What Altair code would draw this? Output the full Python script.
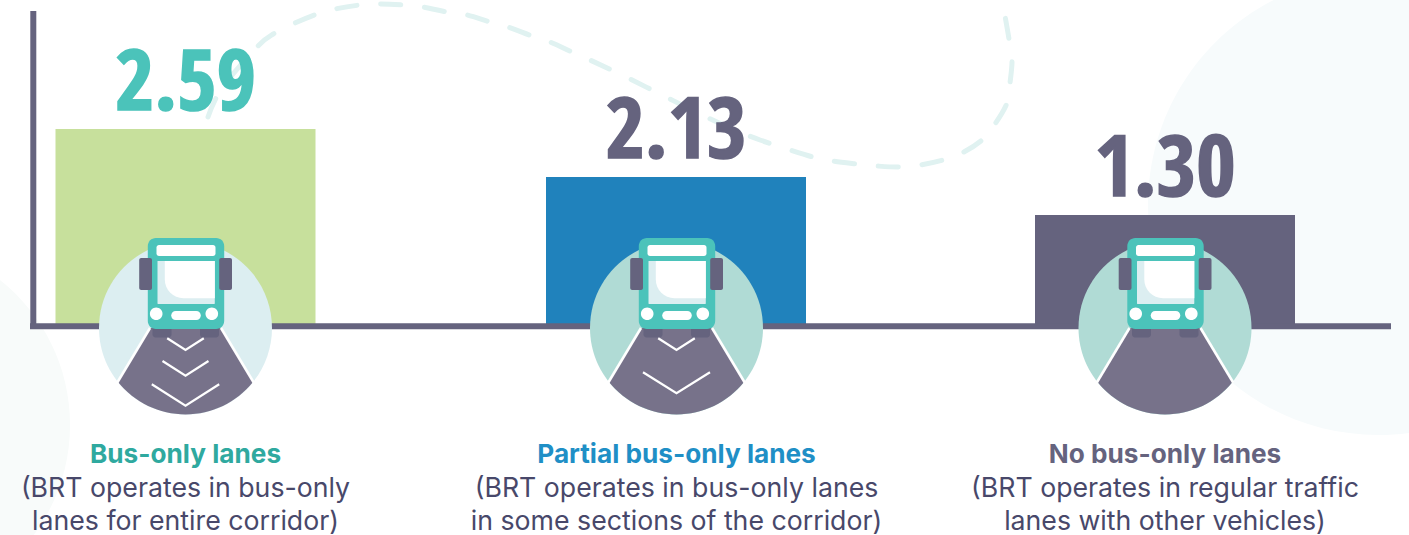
import altair as alt
import pandas as pd

W, H = 1409, 535

# Values and labels
categories = ["Bus-only lanes", "Partial bus-only lanes", "No bus-only lanes"]
values = [2.59, 2.13, 1.30]
descriptions = [
    ["(BRT operates in bus-only", "lanes for entire corridor)"],
    ["(BRT operates in bus-only lanes", "in some sections of the corridor)"],
    ["(BRT operates in regular traffic", "lanes with other vehicles)"],
]

# Per-category styling and layout
centers = [185.5, 676.5, 1165]
bar_colors = ["#C7E09C", "#2082BC", "#65637E"]
number_colors = ["#4BC3BA", "#65637E", "#65637E"]
heading_colors = ["#2FA99F", "#1F8FC6", "#65637E"]
disc_colors = ["#DCEEF1", "#B0DBD5", "#B0DBD5"]

# The printed bar heights step unevenly between values, so the value axis is piecewise
value_domain = [0, 1.30, 2.13, 2.59]
value_range = [326, 215, 177, 129]

# Dashed route running behind the figures
route_x = [208, 222, 258, 275, 295, 317, 335, 360, 380, 403, 423, 447, 467, 490, 508, 532, 550,
           572, 590, 620, 660, 700, 730, 760, 790, 813, 832, 857, 877, 900, 920, 943, 962, 982,
           995, 1007, 1010, 1012, 1009, 1005]
route_y = [117, 88, 46, 33, 23, 14, 9, 5, 4, 5, 7, 12, 15, 22, 27, 36, 42,
           52, 60, 74, 94, 114, 128, 140, 150, 157, 161, 164, 166, 167, 165, 160, 153, 140,
           124, 103, 83, 60, 39, 16]


def disc(r):
    return f"M{-r},0 A{r},{r} 0 1 1 {r},0 A{r},{r} 0 1 1 {-r},0 Z"


def rounded(x0, y0, x1, y1, r):
    return (f"M{x0 + r},{y0} L{x1 - r},{y0} A{r},{r} 0 0 1 {x1},{y0 + r} L{x1},{y1 - r} "
            f"A{r},{r} 0 0 1 {x1 - r},{y1} L{x0 + r},{y1} A{r},{r} 0 0 1 {x0},{y1 - r} "
            f"L{x0},{y0 + r} A{r},{r} 0 0 1 {x0 + r},{y0} Z")


def chevron(half, top, tip):
    return f"M{-half},{top} L0,{tip} L{half},{top}"


DARK, ROAD, TEAL, PALE = "#65637E", "#77728A", "#4BC3BA", "#DCEEF1"
NONE = "transparent"

road = "M-35,0 L-67.5,54 A86.5,86.5 0 0 0 67.5,54 L35,0 Z"
wheel_l = rounded(-33, -3, -14, 9.5, 3)
wheel_r = rounded(14.5, -3, 33.5, 9.5, 3)
mirror_l = rounded(-46.3, -70, -33.5, -38, 2)
mirror_r = rounded(33.7, -70, 46.5, -38, 2)
body = rounded(-37.7, -90, 38.7, 1, 8)
sign = rounded(-29, -83, 30, -72, 2.5)
windshield = rounded(-28, -67, 29.3, -24, 0.5)
glare = "M-20.7,-67 L29.3,-67 L29.3,-29.7 L-2,-29.7 A18.7,18.7 0 0 1 -20.7,-48.4 Z"
grille = rounded(-14.3, -17, 15.3, -8, 4.5)
lamp = "M{0},-14.3 A6.3,6.3 0 1 1 {1},-14.3 A6.3,6.3 0 1 1 {0},-14.3 Z"
lamp_l = lamp.format(-35.6, -23)
lamp_r = lamp.format(20, 32.6)

chevrons = [
    [chevron(18.3, 10.3, 22), chevron(23, 33, 47.7), chevron(33.7, 56.3, 77.7)],
    [chevron(18.3, 10.3, 22), chevron(33.5, 44.3, 65.3)],
    [],
]

# One row per drawn shape of each bus badge, painted in row order
badge_rows = []
for cat, cx, disc_fill, marks in zip(categories, centers, disc_colors, chevrons):
    parts = [(disc(86.5), disc_fill, NONE, 0),
             (road, ROAD, NONE, 0),
             ("M-35.5,0 L-68.2,54.5", NONE, "#FFFFFF", 2.6),
             ("M35.5,0 L68.2,54.5", NONE, "#FFFFFF", 2.6),
             (wheel_l, DARK, NONE, 0),
             (wheel_r, DARK, NONE, 0)]
    parts += [(c, NONE, "#FFFFFF", 2.2) for c in marks]
    parts += [(body, TEAL, NONE, 0),
              (mirror_l, DARK, NONE, 0),
              (mirror_r, DARK, NONE, 0),
              (sign, "#FFFFFF", NONE, 0),
              (windshield, PALE, NONE, 0),
              (glare, "#FFFFFF", NONE, 0),
              (grille, "#FFFFFF", NONE, 0),
              (lamp_l, "#FFFFFF", NONE, 0),
              (lamp_r, "#FFFFFF", NONE, 0)]
    for shape, fill, stroke, sw in parts:
        badge_rows.append({"x": cx, "y": 328, "shape": shape, "fill": fill,
                           "stroke": stroke, "sw": sw})

bars = pd.DataFrame({"category": categories, "value": values, "x": [185.5, 676, 1165],
                     "bar_color": bar_colors, "number_color": number_colors})
badges = pd.DataFrame(badge_rows)
route = pd.DataFrame({"x": route_x, "y": route_y, "i": range(len(route_x))})
blobs = pd.DataFrame({"x": [-115, 1378], "y": [425, 205],
                      "shape": [disc(185), disc(230)], "fill": ["#F8FBFA", "#F7FBFC"]})
axis_lines = pd.DataFrame({"x": [33.3, 30], "x2": [33.3, 1391], "y": [11, 326.3], "y2": [329, 326.3]})

headings = pd.DataFrame({"x": centers, "y": [463] * 3, "text": categories, "color": heading_colors})
body_rows = []
for cx, lines in zip(centers, descriptions):
    body_rows.append({"x": cx, "y": 496.5, "text": lines[0]})
    body_rows.append({"x": cx, "y": 529.5, "text": lines[1]})
body_lines = pd.DataFrame(body_rows)

x_px = alt.X("x:Q", scale=alt.Scale(domain=[0, W], range=[0, W], padding=0), axis=None)
y_px = alt.Y("y:Q", scale=alt.Scale(domain=[0, H], range=[0, H]), axis=None)
y_val = alt.Y("value:Q", scale=alt.Scale(domain=value_domain, range=value_range), axis=None)

blob_layer = alt.Chart(blobs).mark_point(filled=True, size=4, opacity=1, strokeWidth=0).encode(
    x=x_px, y=y_px,
    shape=alt.Shape("shape:N", scale=None),
    fill=alt.Fill("fill:N", scale=None),
)

route_layer = alt.Chart(route).mark_line(
    color="#E0F2F1", strokeWidth=5, strokeCap="round", strokeDash=[20, 24], interpolate="cardinal"
).encode(x=x_px, y=y_px, order="i:Q")

bar_layer = alt.Chart(bars).mark_bar(size=260, orient="vertical").encode(
    x=x_px, y=y_val, fill=alt.Fill("bar_color:N", scale=None),
)

axis_layer = alt.Chart(axis_lines).mark_rule(color="#65637E", strokeWidth=6).encode(
    x=x_px, x2="x2:Q", y=y_px, y2="y2:Q",
)

# A thin outline in the fill colour gives the condensed figures their heavy weight
number_layer = alt.Chart(bars).mark_text(
    font="Open Sans Condensed", fontWeight="bold", fontSize=85, align="center",
    baseline="alphabetic", dy=-19, strokeWidth=1.6,
).encode(
    x=x_px, y=y_val,
    text=alt.Text("value:Q", format=".2f"),
    fill=alt.Fill("number_color:N", scale=None),
    stroke=alt.Stroke("number_color:N", scale=None),
)

badge_layer = alt.Chart(badges).mark_point(size=4, opacity=1, filled=False).encode(
    x=x_px, y=y_px,
    shape=alt.Shape("shape:N", scale=None),
    fill=alt.Fill("fill:N", scale=None),
    stroke=alt.Stroke("stroke:N", scale=None),
    strokeWidth=alt.StrokeWidth("sw:Q", scale=None),
)

heading_layer = alt.Chart(headings).mark_text(
    font="Inter", fontSize=26.2, fontWeight="bold", align="center", baseline="alphabetic",
).encode(x=x_px, y=y_px, text="text:N", fill=alt.Fill("color:N", scale=None))

body_layer = alt.Chart(body_lines).mark_text(
    font="Inter", fontSize=26.7, color="#48486A", align="center", baseline="alphabetic",
).encode(x=x_px, y=y_px, text="text:N")

chart = alt.layer(
    blob_layer, route_layer, bar_layer, axis_layer, number_layer, badge_layer,
    heading_layer, body_layer
).resolve_scale(y="independent").properties(
    width=W, height=H, padding=0, background="#FFFFFF",
    autosize=alt.AutoSizeParams(type="none")
).configure_view(stroke=None)

chart.save("out.html", embed_options={"renderer": "svg", "actions": False})
